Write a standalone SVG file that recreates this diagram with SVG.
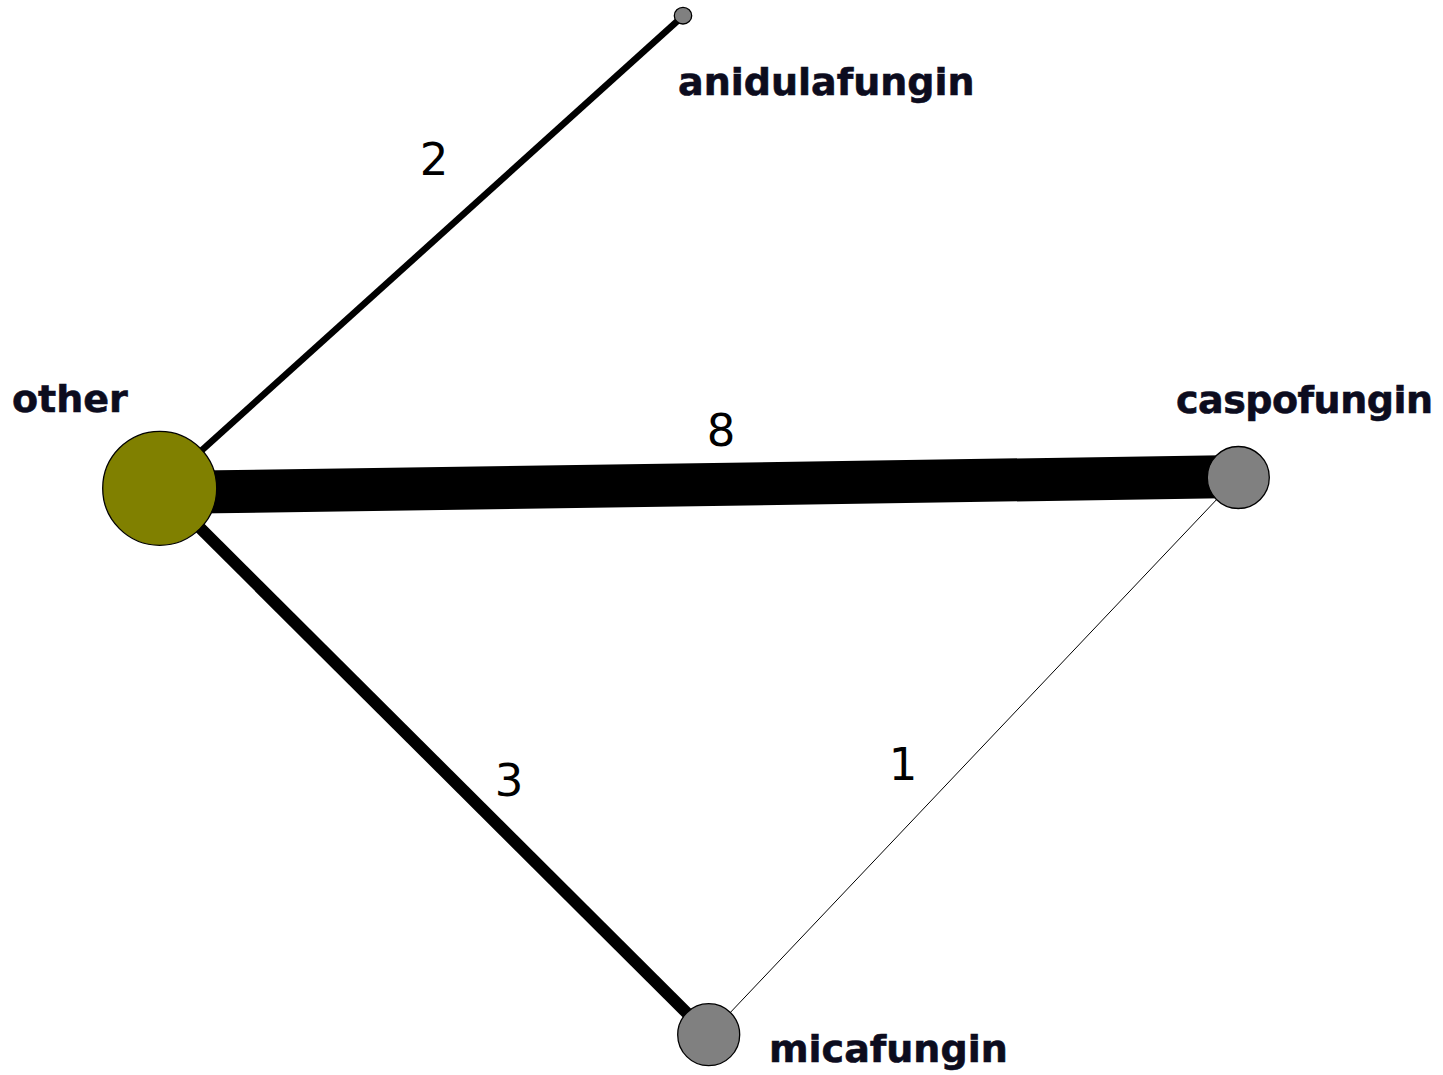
<svg xmlns="http://www.w3.org/2000/svg" width="1443" height="1075" viewBox="0 0 1443 1075">
<style>
.edge{stroke:#000;fill:none;stroke-linecap:butt}
.node{stroke:#000;stroke-width:1.3}
.lbl{font-family:"DejaVu Sans",Verdana,sans-serif;font-weight:bold;font-size:38px;fill:#0c0c1e;stroke:#0c0c1e;stroke-width:0.6}
.num{font-family:"DejaVu Sans",Verdana,sans-serif;font-size:45px;fill:#000;text-anchor:middle}
</style>
<rect width="1443" height="1075" fill="#fff"/>
<g id="connectors">
<line class="edge" x1="160" y1="488" x2="683" y2="16" stroke-width="6.5"/>
<line class="edge" x1="160" y1="492.6" x2="1238" y2="476.6" stroke-width="43"/>
<line class="edge" x1="160" y1="488" x2="709" y2="1035" stroke-width="12"/>
<line class="edge" x1="1238" y1="477" x2="709" y2="1035" stroke-width="1"/>
<text class="num" x="434" y="175">2</text>
<text class="num" x="721" y="446">8</text>
<text class="num" x="509" y="796">3</text>
<text class="num" x="903" y="780">1</text>
</g>
<g id="node-other">
<circle class="node" cx="159.7" cy="488.3" r="57" fill="#808000"/>
<text class="lbl" x="12" y="412">other</text>
</g>
<g id="node-anidulafungin">
<ellipse class="node" cx="683" cy="15.7" rx="8.7" ry="8.3" fill="#808080"/>
<text class="lbl" x="678" y="95">anidulafungin</text>
</g>
<g id="node-caspofungin">
<circle class="node" cx="1238.3" cy="477.5" r="31" fill="#808080"/>
<text class="lbl" x="1176" y="413" textLength="257">caspofungin</text>
</g>
<g id="node-micafungin">
<circle class="node" cx="708.7" cy="1034.7" r="31" fill="#808080"/>
<text class="lbl" x="769" y="1062">micafungin</text>
</g>
</svg>
